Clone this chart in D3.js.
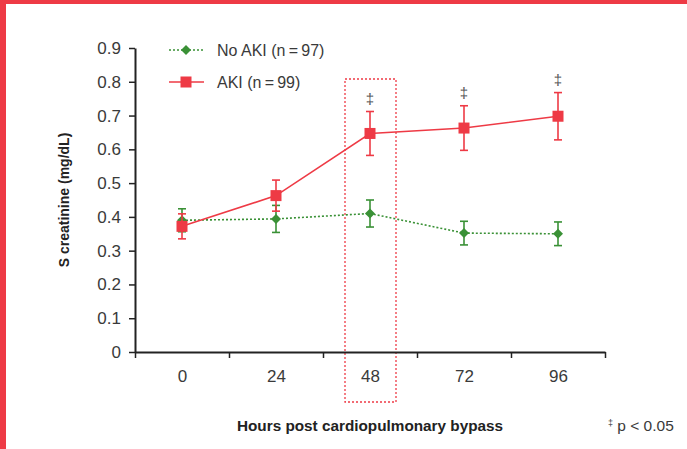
<!DOCTYPE html>
<html>
<head>
<meta charset="utf-8">
<script src="https://cdn.jsdelivr.net/npm/d3@7"></script>
<style>
  body { margin: 0; background: #fff; }
  svg { display: block; font-family: "Liberation Sans", Arial, sans-serif; }
</style>
</head>
<body>
<div id="chart"></div>
<script>
// dữ liệu
const hours = [0, 24, 48, 72, 96];
const hourBounds = [-12, 12, 36, 60, 84, 108];
const yTicks = [0, 0.1, 0.2, 0.3, 0.4, 0.5, 0.6, 0.7, 0.8, 0.9];

const noAkiMean = [0.39, 0.394, 0.41, 0.352, 0.35];
const noAkiErr = [0.034, 0.04, 0.04, 0.035, 0.035];
const akiMean = [0.372, 0.463, 0.647, 0.663, 0.698];
const akiErr = [0.037, 0.046, 0.065, 0.066, 0.07];
const sigHours = [48, 72, 96];

const width = 687, height = 449;
const red = "#ee3a45", green = "#3a9136", textCol = "#3a3a3a";

const svg = d3.select("#chart").append("svg")
    .attr("width", width)
    .attr("height", height);

// viền đỏ
svg.append("rect").attr("x", 0).attr("y", 0).attr("width", width).attr("height", 4).attr("fill", red);
svg.append("rect").attr("x", 0).attr("y", 0).attr("width", 6).attr("height", height).attr("fill", red);

const x = d3.scaleLinear().domain([-12, 108]).range([135, 605]);
const y = d3.scaleLinear().domain([0, 0.9]).range([352, 48]);

// khung chấm đỏ quanh 48h
svg.append("rect")
    .attr("x", x(48) - 25).attr("y", 79)
    .attr("width", 51).attr("height", 323)
    .attr("fill", "none")
    .attr("stroke", red)
    .attr("stroke-width", 1.3)
    .attr("stroke-dasharray", "2,2");

// trục Y
const yAxis = svg.append("g")
    .attr("transform", `translate(${x(-12)},0)`)
    .call(d3.axisLeft(y).tickValues(yTicks).tickFormat(d => d === 0 ? "0" : d3.format(".1f")(d)).tickSize(6).tickPadding(8).tickSizeOuter(0));
yAxis.select(".domain").attr("stroke", "#222").attr("stroke-width", 2);
yAxis.selectAll(".tick line").attr("stroke", "#222").attr("stroke-width", 1.5);
yAxis.selectAll("text").attr("font-size", 17).attr("fill", textCol);

// trục X: vạch ở ranh giới, nhãn ở giữa
const xAxis = svg.append("g")
    .attr("transform", `translate(0,${y(0)})`)
    .call(d3.axisBottom(x).tickValues(hourBounds).tickFormat("").tickSize(6).tickSizeOuter(0));
xAxis.select(".domain").attr("stroke", "#222").attr("stroke-width", 2);
xAxis.selectAll(".tick line").attr("stroke", "#222").attr("stroke-width", 1.5);

const xLabels = svg.append("g")
    .attr("transform", `translate(0,${y(0)})`)
    .call(d3.axisBottom(x).tickValues(hours).tickSize(0).tickPadding(18));
xLabels.select(".domain").remove();
xLabels.selectAll("text").attr("font-size", 17).attr("fill", textCol);

// tiêu đề trục
svg.append("text")
    .attr("transform", `translate(69,${y(0.45)}) rotate(-90)`)
    .attr("text-anchor", "middle")
    .attr("font-size", 14)
    .attr("font-weight", "bold")
    .attr("fill", "#222")
    .text("S creatinine (mg/dL)");

svg.append("text")
    .attr("x", x(48))
    .attr("y", 431)
    .attr("text-anchor", "middle")
    .attr("font-size", 15.3)
    .attr("font-weight", "bold")
    .attr("fill", "#222")
    .text("Hours post cardiopulmonary bypass");

const foot = svg.append("text")
    .attr("x", 608)
    .attr("y", 431)
    .attr("font-size", 15.5)
    .attr("fill", textCol);
foot.append("tspan").attr("font-size", 9).attr("dy", -5).text("‡");
foot.append("tspan").attr("dy", 5).text(" p < 0.05");

const line = d3.line().x(d => x(d[0])).y(d => y(d[1]));

function drawSeries(mean, err, color, dashed, marker) {
    const g = svg.append("g");
    const pts = hours.map((h, i) => [h, mean[i], err[i]]);
    // thanh sai số
    pts.forEach(p => {
        g.append("line").attr("x1", x(p[0])).attr("x2", x(p[0]))
            .attr("y1", y(p[1] - p[2])).attr("y2", y(p[1] + p[2]))
            .attr("stroke", color).attr("stroke-width", 1.6);
        [p[1] - p[2], p[1] + p[2]].forEach(v => {
            g.append("line").attr("x1", x(p[0]) - 4).attr("x2", x(p[0]) + 4)
                .attr("y1", y(v)).attr("y2", y(v))
                .attr("stroke", color).attr("stroke-width", 1.6);
        });
    });
    g.append("path")
        .attr("d", line(pts))
        .attr("fill", "none")
        .attr("stroke", color)
        .attr("stroke-width", 1.6)
        .attr("stroke-dasharray", dashed ? "2,2" : null);
    pts.forEach(p => marker(g, x(p[0]), y(p[1])));
}

const diamond = (g, cx, cy) => g.append("path")
    .attr("d", `M${cx},${cy - 5}L${cx + 5},${cy}L${cx},${cy + 5}L${cx - 5},${cy}Z`)
    .attr("fill", green);
const square = (g, cx, cy) => g.append("rect")
    .attr("x", cx - 5.5).attr("y", cy - 5.5)
    .attr("width", 11).attr("height", 11)
    .attr("fill", red);

drawSeries(noAkiMean, noAkiErr, green, true, diamond);
drawSeries(akiMean, akiErr, red, false, square);

// dấu ‡
svg.selectAll(".sig")
    .data(sigHours)
    .enter()
    .append("text")
    .attr("x", d => x(d))
    .attr("y", d => { const i = hours.indexOf(d); return y(akiMean[i] + akiErr[i]) - 8; })
    .attr("text-anchor", "middle")
    .attr("font-size", 15)
    .attr("fill", "#555")
    .text("‡");

// chú giải
const legend = svg.append("g");
legend.append("line").attr("x1", 169).attr("x2", 204).attr("y1", 50).attr("y2", 50)
    .attr("stroke", green).attr("stroke-width", 1.6).attr("stroke-dasharray", "2,2");
diamond(legend, 186, 50);
legend.append("text").attr("x", 217).attr("y", 56).attr("font-size", 16).attr("fill", textCol)
    .text("No AKI (n\u2009=\u200997)");
legend.append("line").attr("x1", 169).attr("x2", 204).attr("y1", 82).attr("y2", 82)
    .attr("stroke", red).attr("stroke-width", 1.6);
square(legend, 186, 82);
legend.append("text").attr("x", 217).attr("y", 88).attr("font-size", 16).attr("fill", textCol)
    .text("AKI (n\u2009=\u200999)");
</script>
</body>
</html>
